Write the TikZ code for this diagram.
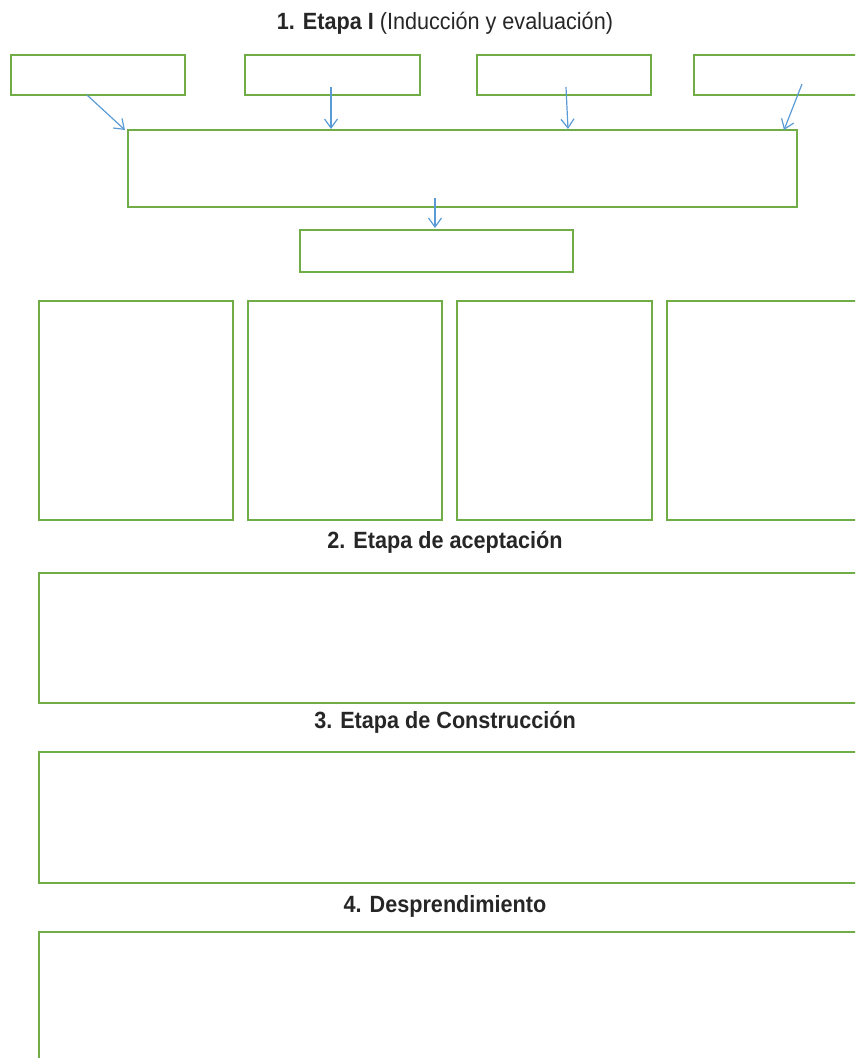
\documentclass[tikz,border=0pt]{standalone}
\usepackage{fontspec}
\setmainfont[FakeStretch=0.92]{Liberation Sans}
\usetikzlibrary{arrows.meta}
\definecolor{boxgreen}{HTML}{70AD47}
\definecolor{arrblue}{HTML}{5B9BD5}
\definecolor{txtgray}{HTML}{262626}
\begin{document}
\begin{tikzpicture}[x=1pt,y=-1pt,
  box/.style={draw=boxgreen,line width=1.7pt,rectangle,inner sep=0pt,anchor=north west},
  conn/.style={draw=arrblue,line width=1.2pt,-{Straight Barb[length=9pt,width=13pt]}},
  lab/.style={font=\fontsize{23.5}{28}\selectfont,text=txtgray,anchor=base,inner sep=0pt}]
\useasboundingbox (0,0) rectangle (855,1058);
\clip (0,0) rectangle (855,1058);
% title
\node[lab] (title) at (445,29) {\textbf{1. Etapa I} (Inducción y evaluación)};
% top row
\node[box,minimum width=174pt,minimum height=40pt] (t1) at (10,54) {};
\node[box,minimum width=175pt,minimum height=40pt] (t2) at (244,54) {};
\node[box,minimum width=174pt,minimum height=40pt] (t3) at (476,54) {};
\node[box,minimum width=180pt,minimum height=40pt] (t4) at (693,54) {};
\node[box,minimum width=669pt,minimum height=77pt] (big) at (127,129) {};
\node[box,minimum width=273pt,minimum height=42pt] (mid) at (299,229) {};
% columns
\node[box,minimum width=194pt,minimum height=219pt] (c1) at (38,300) {};
\node[box,minimum width=194pt,minimum height=219pt] (c2) at (247,300) {};
\node[box,minimum width=195pt,minimum height=219pt] (c3) at (456,300) {};
\node[box,minimum width=200pt,minimum height=219pt] (c4) at (666,300) {};
% stages
\node[lab] (l2) at (445,548) {\textbf{2. Etapa de aceptación}};
\node[box,minimum width=830pt,minimum height=130pt] (s2) at (38,572) {};
\node[lab] (l3) at (445,728) {\textbf{3. Etapa de Construcción}};
\node[box,minimum width=830pt,minimum height=131pt] (s3) at (38,751) {};
\node[lab] (l4) at (445,912) {\textbf{4. Desprendimiento}};
\node[box,minimum width=830pt,minimum height=150pt] (s4) at (38,931) {};
% connector end points
\coordinate (a1s) at (87,95);  \coordinate (a1e) at (125,130);
\coordinate (a2s) at (331,87); \coordinate (a2e) at (331,129);
\coordinate (a3s) at (566,87); \coordinate (a3e) at (568,129);
\coordinate (a4s) at (802,84); \coordinate (a4e) at (784,130);
\coordinate (a5s) at (435,198);\coordinate (a5e) at (435,228);
\draw[conn] (a1s) -- (a1e);
\draw[conn] (a2s) -- (a2e);
\draw[conn] (a3s) -- (a3e);
\draw[conn] (a4s) -- (a4e);
\draw[conn] (a5s) -- (a5e);
\end{tikzpicture}
\end{document}
